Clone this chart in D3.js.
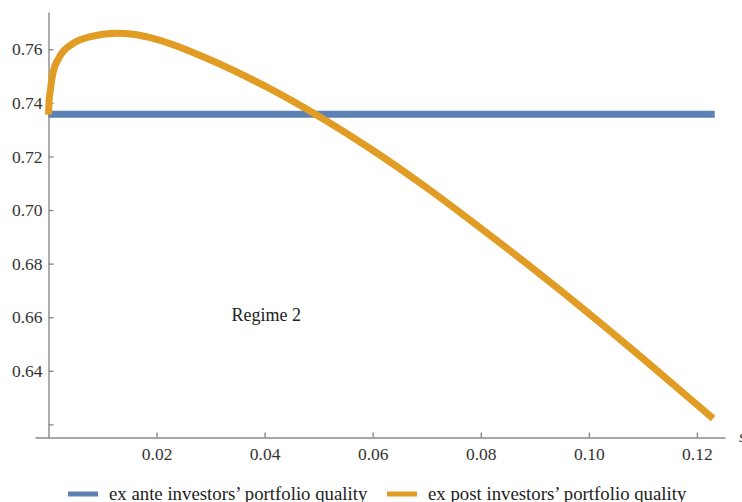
<!DOCTYPE html>
<html>
<head>
<meta charset="utf-8">
<script src="https://cdn.jsdelivr.net/npm/d3@7"></script>
<style>
  html, body { margin: 0; padding: 0; background: #fff; }
  svg { display: block; }
  .axis path, .axis line { stroke: #8a8a8a; stroke-width: 1.4; }
</style>
</head>
<body>
<div id="chart"></div>
<script>
// values
const anteX = [0, 0.1233];
const anteY = [0.7357, 0.7357];

const postX = [0, 0.0001, 0.0003, 0.0008, 0.002, 0.0045, 0.0076, 0.0125, 0.016, 0.02, 0.03, 0.04,
    0.05, 0.06, 0.07, 0.08, 0.09, 0.10, 0.11, 0.12, 0.123];
const postY = [0.7356, 0.7405, 0.744, 0.751, 0.757, 0.7621, 0.7646, 0.766, 0.7655, 0.7637, 0.756, 0.7463,
    0.735, 0.7223, 0.7083, 0.6932, 0.6776, 0.6614, 0.6446, 0.6274, 0.6222];

const xTicks = [0.02, 0.04, 0.06, 0.08, 0.10, 0.12];
const yTicks = [0.62, 0.64, 0.66, 0.68, 0.70, 0.72, 0.74, 0.76];
const yUnlabeled = [0.62];

const seriesNames = ["ex ante investors’ portfolio quality", "ex post investors’ portfolio quality"];
const seriesColors = ["#5e81b5", "#e19c24"];

const FONT = "Liberation Serif, serif";
const width = 742, height = 502;

const x = d3.scaleLinear().domain([-0.0025, 0.1252]).range([35, 725]);
const y = d3.scaleLinear().domain([0.6151, 0.7739]).range([437.5, 12]);

const svg = d3.select("#chart").append("svg")
    .attr("width", width).attr("height", height)
    .attr("font-family", FONT);

const xAxis = d3.axisBottom(x).tickValues(xTicks).tickSize(-5).tickSizeOuter(0)
    .tickPadding(10).tickFormat(d3.format(".2f"));
const yAxis = d3.axisLeft(y).tickValues(yTicks).tickSize(-5).tickSizeOuter(0)
    .tickPadding(6).tickFormat(d => yUnlabeled.includes(d) ? "" : d3.format(".2f")(d));

const gx = svg.append("g").attr("class", "axis axis--x")
    .attr("transform", `translate(0,${y.range()[0]})`).call(xAxis);
const gy = svg.append("g").attr("class", "axis axis--y")
    .attr("transform", `translate(${x(0)},0)`).call(yAxis);

[gx, gy].forEach(g => {
    g.attr("font-family", FONT).attr("font-size", 17.5);
    g.selectAll("text").attr("font-family", FONT).attr("fill", "#333");
});

// x axis label, clipped at the right edge like the original
svg.append("text").attr("x", 739).attr("y", 442)
    .attr("font-style", "italic").attr("font-size", 17).attr("fill", "#333").text("s");

const line = d3.line().x(d => x(d[0])).y(d => y(d[1]));

svg.append("path")
    .datum(anteX.map((v, i) => [v, anteY[i]]))
    .attr("fill", "none").attr("stroke", seriesColors[0]).attr("stroke-width", 7)
    .attr("d", line);

svg.append("path")
    .datum(postX.map((v, i) => [v, postY[i]]))
    .attr("fill", "none").attr("stroke", seriesColors[1]).attr("stroke-width", 7)
    .attr("d", line.curve(d3.curveMonotoneX));

svg.append("text").attr("x", x(0.0403)).attr("y", y(0.6585))
    .attr("text-anchor", "middle").attr("font-size", 18).attr("fill", "#222")
    .text("Regime 2");

// legend
const legendX = [68, 387];
const legend = svg.append("g").selectAll("g").data(seriesNames).join("g")
    .attr("transform", (d, i) => `translate(${legendX[i]},494)`);
legend.append("line").attr("x1", 0).attr("x2", 30).attr("y1", 0).attr("y2", 0)
    .attr("stroke", (d, i) => seriesColors[i]).attr("stroke-width", 5);
legend.append("text").attr("x", 41).attr("y", 6)
    .attr("font-size", 18.8).attr("fill", "#222").text(d => d);
</script>
</body>
</html>
